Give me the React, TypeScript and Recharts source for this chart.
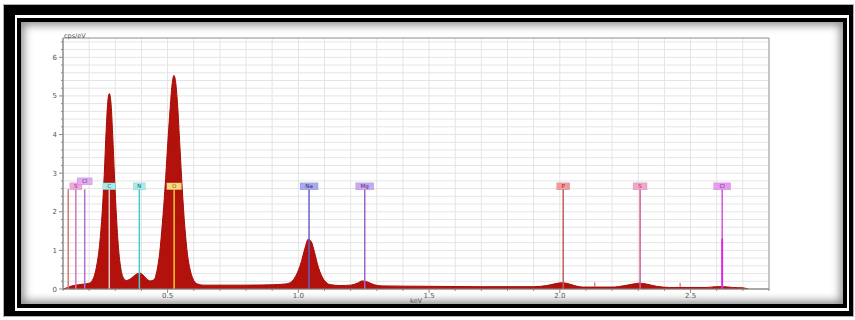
import {
  ComposedChart,
  Area,
  XAxis,
  YAxis,
  CartesianGrid,
  ReferenceLine,
  ReferenceDot,
  ReferenceArea,
} from 'recharts';

// EDS spectrum (keV vs cps/eV)
const energy = [
  0.1, 0.11, 0.125, 0.14, 0.16, 0.18, 0.2, 0.21, 0.22, 0.23, 0.24, 0.25, 0.258, 0.265,
  0.272, 0.277, 0.283, 0.29, 0.297, 0.305, 0.313, 0.322, 0.332, 0.342, 0.355, 0.37,
  0.385, 0.395, 0.405, 0.42, 0.435, 0.448, 0.46, 0.47, 0.48, 0.49, 0.5, 0.51, 0.518,
  0.524, 0.53, 0.538, 0.547, 0.556, 0.566, 0.576, 0.588, 0.6, 0.615, 0.635, 0.7, 0.8,
  0.9, 0.95, 0.97, 0.985, 1.0, 1.012, 1.025, 1.038, 1.05, 1.062, 1.075, 1.09, 1.105,
  1.125, 1.16, 1.2, 1.225, 1.245, 1.265, 1.29, 1.32, 1.5, 1.7, 1.9, 1.95, 1.985, 2.005,
  2.025, 2.055, 2.09, 2.2, 2.25, 2.29, 2.305, 2.33, 2.37, 2.42, 2.56, 2.6, 2.625, 2.66,
  2.7, 2.72,
];
const counts = [
  0.0, 0.02, 0.06, 0.09, 0.11, 0.13, 0.15, 0.2, 0.35, 0.65, 1.15, 2.0, 3.0, 4.1,
  4.9, 5.06, 4.85, 4.0, 2.9, 1.8, 1.0, 0.5, 0.28, 0.22, 0.25, 0.33,
  0.4, 0.41, 0.37, 0.26, 0.21, 0.24, 0.5, 0.95, 1.7, 2.6, 3.7, 4.7, 5.35,
  5.53, 5.4, 4.8, 3.7, 2.6, 1.6, 0.9, 0.45, 0.22, 0.13, 0.1, 0.1, 0.1,
  0.11, 0.13, 0.17, 0.28, 0.48, 0.72, 1.05, 1.29, 1.22, 0.95, 0.6, 0.33, 0.18,
  0.11, 0.09, 0.1, 0.15, 0.21, 0.18, 0.11, 0.08, 0.07, 0.06, 0.06, 0.09, 0.14, 0.16,
  0.15, 0.09, 0.05, 0.05, 0.09, 0.14, 0.15, 0.13, 0.07, 0.04, 0.04, 0.06, 0.06, 0.04,
  0.03, 0.0,
];

const xTicks = [
  0.1, 0.2, 0.3, 0.4, 0.5, 0.6, 0.7, 0.8, 0.9, 1.0, 1.1, 1.2, 1.3, 1.4, 1.5, 1.6, 1.7,
  1.8, 1.9, 2.0, 2.1, 2.2, 2.3, 2.4, 2.5, 2.6, 2.7, 2.8,
];
const yTicks = [
  0, 0.2, 0.4, 0.6, 0.8, 1, 1.2, 1.4, 1.6, 1.8, 2, 2.2, 2.4, 2.6, 2.8, 3, 3.2, 3.4, 3.6,
  3.8, 4, 4.2, 4.4, 4.6, 4.8, 5, 5.2, 5.4, 5.6, 5.8, 6, 6.2, 6.4,
];

// element markers
const markerNames = ['P', 'S', 'Cl', 'C', 'N', 'O', 'Na', 'Mg', 'P', 'S', 'Cl'];
const markerKeV = [0.12, 0.149, 0.183, 0.277, 0.392, 0.525, 1.041, 1.254, 2.013, 2.307, 2.621];
const markerTop = [2.58, 2.58, 2.58, 2.58, 2.58, 2.58, 2.58, 2.58, 2.58, 2.58, 2.58];
const tagLevel = [null, 2.66, 2.79, 2.66, 2.66, 2.66, 2.66, 2.66, 2.66, 2.66, 2.66];

// small unlabeled lines
const minorKeV = [2.134, 2.46];
const minorTop = [0.17, 0.16];

const markerStyle = [
  { line: '#d07878', bg: '#f2a0a0', ink: '#803030', w: 12 },
  { line: '#d078b8', bg: '#f2a6dc', ink: '#803070', w: 12 },
  { line: '#b070d0', bg: '#e2aaf2', ink: '#603080', w: 15 },
  { line: '#ecc8c8', bg: '#a6eaea', ink: '#206868', w: 13 },
  { line: '#48c8d0', bg: '#a6eaea', ink: '#206868', w: 12 },
  { line: '#f0c830', bg: '#f8d880', ink: '#806010', w: 15 },
  { line: '#6464c4', bg: '#a8a8ec', ink: '#303080', w: 18 },
  { line: '#9a64c8', bg: '#c8a8f2', ink: '#503080', w: 18 },
  { line: '#c85a5a', bg: '#f29a9a', ink: '#803030', w: 13 },
  { line: '#c86096', bg: '#f2a6cc', ink: '#803060', w: 14 },
  { line: '#d850e0', bg: '#e69af2', ink: '#702080', w: 17 },
];

const spectrum = energy.map((e, i) => ({ e, cps: counts[i] }));

const FONT = '"DejaVu Sans", Verdana, sans-serif';

const XTick = (p: any) => {
  const { x, y, payload } = p;
  const v = payload.value;
  const major = Math.abs(v * 2 - Math.round(v * 2)) < 1e-6;
  return (
    <g>
      <line x1={x} x2={x} y1={y - 2} y2={y - 2 + (major ? 4 : 2)} stroke="#8a8a8a" />
      {major && (
        <text x={x} y={y + 7} textAnchor="middle" fontSize={7} fill="#555" fontFamily={FONT}>
          {v.toFixed(1)}
        </text>
      )}
    </g>
  );
};

const YTick = (p: any) => {
  const { x, y, payload } = p;
  const v = payload.value;
  const major = Math.abs(v - Math.round(v)) < 1e-6;
  const ax = x + 5;
  return (
    <g>
      <line x1={ax - (major ? 4 : 2)} x2={ax} y1={y} y2={y} stroke="#8a8a8a" />
      {major && (
        <text x={x - 1} y={y + 2.5} textAnchor="end" fontSize={7} fill="#555" fontFamily={FONT}>
          {v}
        </text>
      )}
    </g>
  );
};

const Tag = (p: any) => {
  const { cx, cy, text, bg, ink, w } = p;
  return (
    <g>
      <rect x={cx - w / 2} y={cy - 3.5} width={w} height={7} fill={bg} stroke={ink} strokeOpacity={0.25} strokeWidth={0.5} />
      <text x={cx} y={cy + 2} textAnchor="middle" fontSize={5.5} fill={ink} fontFamily={FONT}>
        {text}
      </text>
    </g>
  );
};

export default function App() {
  return (
    <div style={{ position: 'fixed', left: 0, top: 0, width: 855, height: 320, background: '#fff', overflow: 'hidden' }}>
      {/* picture frame */}
      <div style={{ position: 'absolute', left: 3, top: 4, width: 851, height: 313, border: '1px solid #b0b0b0', boxSizing: 'border-box' }} />
      <div
        style={{
          position: 'absolute',
          left: 4,
          top: 5,
          width: 849,
          height: 311,
          boxSizing: 'border-box',
          borderStyle: 'solid',
          borderColor: '#000',
          borderWidth: '10px 4px 5px 11px',
        }}
      />
      <div
        style={{
          position: 'absolute',
          left: 17,
          top: 18,
          width: 830,
          height: 290,
          boxSizing: 'border-box',
          border: '4px solid #000',
        }}
      >
        <div style={{ width: '100%', height: '100%', boxShadow: 'inset 0 0 9px 3px rgba(0,0,0,0.45)' }} />
      </div>

      <div style={{ position: 'absolute', left: 0, top: 0 }}>
        <ComposedChart width={855} height={320} data={spectrum} margin={{ top: 38, right: 86, left: 41, bottom: 9 }}>
          <CartesianGrid stroke="#e4e4e4" />
          <XAxis
            dataKey="e"
            type="number"
            domain={[0.1, 2.8]}
            ticks={xTicks}
            interval={0}
            allowDataOverflow
            height={22}
            tickSize={0}
            tickMargin={2}
            tick={<XTick />}
            axisLine={{ stroke: '#8a8a8a' }}
            label={{
              content: ({ viewBox }: any) => (
                <text x={viewBox.x + viewBox.width / 2} y={viewBox.y + 14} textAnchor="middle" fontSize={6.5} fill="#555" fontFamily={FONT}>
                  keV
                </text>
              ),
            }}
          />
          <YAxis
            type="number"
            domain={[0, 6.5]}
            ticks={yTicks}
            interval={0}
            allowDataOverflow
            width={22}
            tickSize={0}
            tickMargin={5}
            tick={<YTick />}
            axisLine={{ stroke: '#8a8a8a' }}
            label={{
              content: ({ viewBox }: any) => (
                <text x={viewBox.x + viewBox.width + 1} y={viewBox.y - 0.5} textAnchor="start" fontSize={6.5} fill="#555" fontFamily={FONT}>
                  cps/eV
                </text>
              ),
            }}
          />
          <ReferenceArea x1={0.1} x2={2.8} y1={0} y2={6.5} fill="none" stroke="#9a9a9a" strokeWidth={1} />
          <Area
            dataKey="cps"
            type="monotone"
            stroke="#a50b05"
            strokeWidth={1}
            fill="#b3120c"
            fillOpacity={1}
            dot={false}
            activeDot={false}
            isAnimationActive={false}
          />
          {minorKeV.map((e, i) => (
            <ReferenceLine
              key={`m${i}`}
              segment={[{ x: e, y: 0.05 }, { x: e, y: minorTop[i] }]}
              stroke="#c05050"
              strokeWidth={1}
            />
          ))}
          {markerKeV.map((e, i) => (
            <ReferenceLine
              key={`l${i}`}
              segment={[{ x: e, y: 0 }, { x: e, y: markerTop[i] }]}
              stroke={markerStyle[i].line}
              strokeWidth={1.5}
            />
          ))}
          <ReferenceLine segment={[{ x: 2.621, y: 0 }, { x: 2.621, y: 1.3 }]} stroke="#e020e8" strokeWidth={1.8} />
          {markerKeV.map((e, i) =>
            tagLevel[i] === null ? null : (
              <ReferenceDot
                key={`t${i}`}
                x={e}
                y={tagLevel[i] as number}
                r={0}
                shape={(p: any) => (
                  <Tag {...p} text={markerNames[i]} bg={markerStyle[i].bg} ink={markerStyle[i].ink} w={markerStyle[i].w} />
                )}
              />
            )
          )}
        </ComposedChart>
      </div>
    </div>
  );
}
